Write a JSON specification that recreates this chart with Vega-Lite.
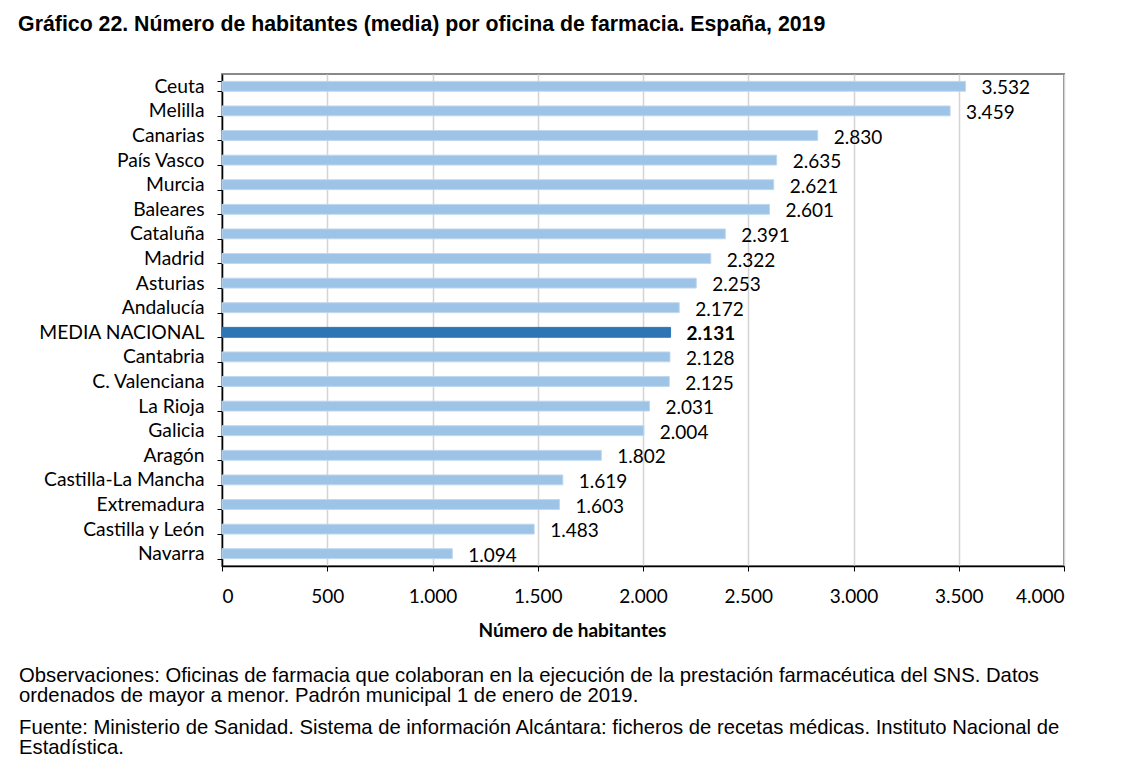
{
  "$schema": "https://vega.github.io/schema/vega-lite/v6.json",
  "padding": {"left": 18, "top": 13, "right": 20, "bottom": 5},
  "background": "white",
  "config": {
    "locale": {"number": {"decimal": ",", "thousands": ".", "grouping": [3], "currency": ["", " €"]}},
    "view": {"stroke": "#898989", "strokeWidth": 2},
    "concat": {"spacing": 0}
  },
  "title": {
    "text": "Gráfico 22. Número de habitantes (media) por oficina de farmacia. España, 2019",
    "anchor": "start",
    "frame": "bounds",
    "font": "Liberation Sans",
    "fontSize": 21.3,
    "fontWeight": "bold",
    "color": "#000000",
    "offset": 29
  },
  "vconcat": [
    {
      "width": 842,
      "height": 492,
      "title": {
        "text": ["Observaciones: Oficinas de farmacia que colaboran en la ejecución de la prestación farmacéutica del SNS. Datos", "ordenados de mayor a menor. Padrón municipal 1 de enero de 2019."],
        "subtitle": ["Fuente: Ministerio de Sanidad. Sistema de información Alcántara: ficheros de recetas médicas. Instituto Nacional de", "Estadística."],
        "orient": "bottom",
        "anchor": "start",
        "frame": "bounds",
        "font": "Liberation Sans",
        "fontSize": 20.25,
        "fontWeight": "normal",
        "lineHeight": 20,
        "color": "#000000",
        "subtitleFont": "Liberation Sans",
        "subtitleFontSize": 20.25,
        "subtitleColor": "#000000",
        "subtitleLineHeight": 20,
        "subtitlePadding": 12,
        "offset": 26,
        "dx": -19
      },
      "data": {
        "values": [
          {"region": "Ceuta", "valor": 3532},
          {"region": "Melilla", "valor": 3459},
          {"region": "Canarias", "valor": 2830},
          {"region": "País Vasco", "valor": 2635},
          {"region": "Murcia", "valor": 2621},
          {"region": "Baleares", "valor": 2601},
          {"region": "Cataluña", "valor": 2391},
          {"region": "Madrid", "valor": 2322},
          {"region": "Asturias", "valor": 2253},
          {"region": "Andalucía", "valor": 2172},
          {"region": "MEDIA NACIONAL", "valor": 2131},
          {"region": "Cantabria", "valor": 2128},
          {"region": "C. Valenciana", "valor": 2125},
          {"region": "La Rioja", "valor": 2031},
          {"region": "Galicia", "valor": 2004},
          {"region": "Aragón", "valor": 1802},
          {"region": "Castilla-La Mancha", "valor": 1619},
          {"region": "Extremadura", "valor": 1603},
          {"region": "Castilla y León", "valor": 1483},
          {"region": "Navarra", "valor": 1094}
        ]
      },
      "encoding": {
        "y": {
          "field": "region",
          "type": "nominal",
          "sort": ["Ceuta", "Melilla", "Canarias", "País Vasco", "Murcia", "Baleares", "Cataluña", "Madrid", "Asturias", "Andalucía", "MEDIA NACIONAL", "Cantabria", "C. Valenciana", "La Rioja", "Galicia", "Aragón", "Castilla-La Mancha", "Extremadura", "Castilla y León", "Navarra"],
          "scale": {"paddingInner": 0.6, "paddingOuter": 0.3},
          "axis": {
            "title": null,
            "labelFont": "Lato",
            "labelFontSize": 19.3,
            "labelColor": "#000000",
            "labelPadding": 13,
            "tickBand": "extent",
            "ticks": true,
            "tickSize": 5,
            "tickColor": "#000000",
            "domainColor": "#000000",
            "domainWidth": 1.5
          }
        },
        "x": {
          "field": "valor",
          "type": "quantitative",
          "scale": {"domain": [0, 4000], "nice": false},
          "axis": {
            "values": [0, 500, 1000, 1500, 2000, 2500, 3000, 3500, 4000],
            "format": ",d",
            "title": "Número de habitantes",
            "titleFont": "Lato",
            "titleFontSize": 19,
            "titleFontWeight": "bold",
            "titleColor": "#000000",
            "titlePadding": 15,
            "titleX": 350,
            "labelFont": "Lato",
            "labelFontSize": 19,
            "labelColor": "#000000",
            "labelPadding": 16,
            "grid": true,
            "gridColor": "#D4D4D4",
            "gridWidth": 1.5,
            "tickSize": 5,
            "tickColor": "#000000",
            "domainColor": "#000000",
            "domainWidth": 1.5
          }
        }
      },
      "layer": [
        {
          "mark": {"type": "bar", "strokeWidth": 1},
          "encoding": {
            "color": {
              "condition": {"test": "datum.region === 'MEDIA NACIONAL'", "value": "#2E75B6"},
              "value": "#9DC3E6"
            },
            "stroke": {
              "condition": {"test": "datum.region === 'MEDIA NACIONAL'", "value": "#2E75B6"},
              "value": "#BDD7EE"
            }
          }
        },
        {
          "transform": [{"filter": "datum.region !== 'MEDIA NACIONAL'"}],
          "mark": {"type": "text", "align": "left", "baseline": "middle", "dx": 16, "dy": 2, "font": "Lato", "fontSize": 19, "color": "#000000"},
          "encoding": {"text": {"field": "valor", "type": "quantitative", "format": ",d"}}
        },
        {
          "transform": [{"filter": "datum.region === 'MEDIA NACIONAL'"}],
          "mark": {"type": "text", "align": "left", "baseline": "middle", "dx": 16, "dy": 2, "font": "Lato", "fontSize": 19, "fontWeight": "bold", "color": "#000000"},
          "encoding": {"text": {"field": "valor", "type": "quantitative", "format": ",d"}}
        }
      ]
    }
  ]
}
